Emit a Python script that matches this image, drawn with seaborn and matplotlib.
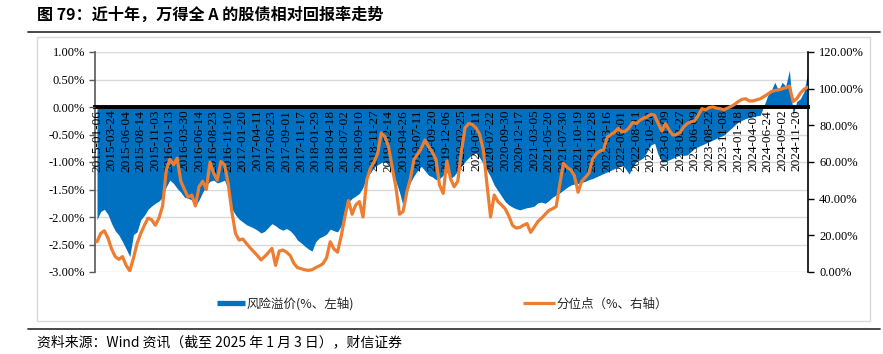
import numpy as np
import pandas as pd
import matplotlib
matplotlib.use("Agg")
import matplotlib.pyplot as plt
import seaborn as sns
from matplotlib.lines import Line2D
from matplotlib.patches import Rectangle
from matplotlib.ticker import FixedLocator, FixedFormatter

# ---------------- data ----------------
tick_labels = [
    "2015-01-06", "2015-03-24", "2015-06-04", "2015-08-14", "2015-11-03",
    "2016-01-13", "2016-03-30", "2016-06-14", "2016-08-23", "2016-11-10",
    "2017-01-20", "2017-04-11", "2017-06-23", "2017-09-01", "2017-11-17",
    "2018-01-29", "2018-04-18", "2018-07-02", "2018-09-10", "2018-11-27",
    "2019-02-14", "2019-04-26", "2019-07-11", "2019-09-20", "2019-12-06",
    "2020-02-25", "2020-05-11", "2020-07-22", "2020-09-30", "2020-12-17",
    "2021-03-05", "2021-05-20", "2021-07-30", "2021-10-19", "2021-12-28",
    "2022-03-16", "2022-06-01", "2022-08-11", "2022-10-28", "2023-01-09",
    "2023-03-27", "2023-06-09", "2023-08-22", "2023-11-08", "2024-01-18",
    "2024-04-09", "2024-06-24", "2024-09-02", "2024-11-20",
]

# 风险溢价 (%, left axis), four samples per tick-label interval
risk_premium = [
    -2.05, -1.90, -1.86, -1.95,  -2.12, -2.25, -2.33, -2.45,
    -2.58, -2.72, -2.32, -2.27,  -2.05, -1.97, -1.86, -1.80,
    -1.75, -1.71, -1.64, -1.45,  -1.33, -1.39, -1.48, -1.55,
    -1.64, -1.66, -1.69, -1.80,  -1.69, -1.55, -1.43, -1.35,
    -1.33, -1.38, -1.36, -1.33,  -1.50, -1.85, -1.96, -2.04,
    -2.09, -2.14, -2.17, -2.20,  -2.24, -2.29, -2.26, -2.19,
    -2.12, -2.16, -2.21, -2.24,  -2.21, -2.25, -2.32, -2.42,
    -2.47, -2.53, -2.58, -2.62,  -2.45, -2.38, -2.35, -2.31,
    -2.22, -2.25, -2.27, -2.16,  -1.87, -1.73, -1.66, -1.62,
    -1.57, -1.46, -1.27, -1.20,  -1.10, -1.05, -1.01, -0.99,
    -1.06, -1.17, -1.35, -1.55,  -1.80, -1.55, -1.37, -1.25,
    -1.15, -1.08, -1.16, -1.24,  -1.27, -1.32, -1.30, -1.24,
    -1.18, -1.30, -1.25, -1.16,  -1.08, -0.99, -0.92, -0.86,
    -0.84, -0.92, -1.03, -1.15,  -1.27, -1.42, -1.52, -1.62,
    -1.72, -1.78, -1.82, -1.85,  -1.87, -1.85, -1.83, -1.82,
    -1.80, -1.74, -1.73, -1.75,  -1.70, -1.64, -1.60, -1.56,
    -1.51, -1.46, -1.42, -1.40,  -1.39, -1.37, -1.35, -1.32,
    -1.30, -1.27, -1.24, -1.21,  -1.18, -1.15, -1.12, -1.08,
    -1.05, -1.12, -1.22, -1.08,  -0.99, -0.96, -0.92, -0.80,
    -0.69, -0.66, -0.87, -1.00,  -0.99, -0.96, -0.93, -0.90,
    -0.87, -0.88, -0.87, -0.81,  -0.75, -0.72, -0.69, -0.66,
    -0.63, -0.60, -0.57, -0.54,  -0.51, -0.45, -0.39, -0.33,
    -0.27, -0.24, -0.21, -0.19,  -0.18, -0.16, -0.15, 0.02,
    0.20, 0.30, 0.45, 0.30,      0.45, 0.38, 0.67, -0.15,
    0.10, 0.15, 0.28, 0.62,
]

# 分位点 (%, right axis)
percentile = [
    16.5, 21.0, 22.5, 18.6,   12.6, 8.4, 6.9, 8.4,
    3.6, 0.6, 7.5, 15.6,      21.0, 25.5, 29.4, 28.5,
    25.5, 29.4, 36.0, 55.5,   61.5, 58.5, 62.1, 49.5,
    45.0, 40.8, 42.0, 36.0,   46.5, 49.5, 45.0, 60.0,
    54.0, 50.1, 60.3, 58.5,   48.0, 33.0, 21.0, 17.4,
    18.0, 15.6, 13.2, 11.1,   9.0, 6.6, 8.4, 10.5,
    12.9, 3.6, 11.4, 12.0,    10.8, 9.0, 4.8, 2.4,
    1.8, 1.2, 0.9, 1.2,       2.4, 3.3, 4.5, 7.8,
    16.5, 12.6, 10.8, 19.5,   30.0, 39.0, 31.5, 36.6,
    38.4, 30.0, 50.1, 56.4,   60.0, 64.5, 75.9, 73.8,
    68.4, 57.0, 46.5, 31.5,   33.0, 43.5, 51.0, 61.5,
    64.2, 67.5, 72.0, 68.4,   65.4, 61.5, 47.4, 42.9,
    60.6, 51.0, 46.5, 49.5,   66.0, 78.6, 81.0, 80.4,
    78.6, 75.0, 66.6, 48.0,   30.0, 42.0, 38.4, 36.6,
    34.5, 30.6, 25.5, 24.0,   24.3, 25.5, 26.4, 21.6,
    24.6, 27.6, 29.4, 31.5,   33.6, 34.5, 35.7, 48.0,
    59.4, 57.0, 55.8, 52.5,   43.5, 49.5, 51.6, 54.0,
    61.5, 64.5, 66.0, 66.6,   73.5, 75.0, 76.2, 78.3,
    76.5, 76.8, 78.6, 81.6,   81.0, 82.8, 84.0, 84.6,
    86.1, 85.5, 81.0, 76.8,   81.0, 77.4, 74.7, 75.0,
    76.2, 79.2, 81.0, 81.9,   82.5, 85.5, 89.1, 88.5,
    89.7, 90.0, 89.4, 89.1,   88.5, 89.4, 90.3, 91.5,
    93.0, 94.2, 94.5, 93.3,   93.3, 93.9, 94.5, 95.7,
    96.9, 98.4, 99.0, 99.3,   99.9, 100.5, 101.4, 93.0,
    94.5, 97.5, 99.6, 100.8,
]

title = "图 79：近十年，万得全 A 的股债相对回报率走势"
source = "资料来源：Wind 资讯（截至 2025 年 1 月 3 日），财信证券"
label_rp = "风险溢价(%、左轴)"
label_pct = "分位点（%、右轴）"

# ---------------- style ----------------
sns.set_theme(style="white")
plt.rcParams["font.family"] = ["Liberation Serif", "Noto Sans CJK SC", "DejaVu Sans"]
plt.rcParams["axes.axisbelow"] = False
CJK = ["Noto Sans CJK SC", "DejaVu Sans"]
BLUE = "#0070C0"
ORANGE = "#ED7D31"

W, H = 883, 354
fig = plt.figure(figsize=(W / 100, H / 100), dpi=100)
fig.patch.set_facecolor("white")

df = pd.DataFrame({
    "idx": np.arange(len(risk_premium)),
    "rp": risk_premium,
    "pct": percentile,
})

ax = fig.add_axes([95 / W, 1 - 272 / H, (808 - 95) / W, 220 / H])
ax.set_facecolor("white")
ax.set_axisbelow(False)
ax.fill_between(df["idx"], 0, df["rp"], color=BLUE, linewidth=0, zorder=1)

ax2 = ax.twinx()
sns.lineplot(data=df, x="idx", y="pct", ax=ax2, color=ORANGE, lw=2.3,
             legend=False, zorder=3)

# left axis
ax.set_ylim(-3, 1)
yt = np.arange(-3, 1.001, 0.5)
ax.yaxis.set_major_locator(FixedLocator(yt))
ax.yaxis.set_major_formatter(FixedFormatter([f"{v:.2f}%" for v in yt]))
for v in yt:
    ax.axhline(v, color="#d9d9d9", lw=1.0, zorder=0.5)

# x axis (categorical date labels hanging below the zero line)
ax.set_xlim(-0.55, 195.1)
xt = np.arange(0, 4 * len(tick_labels), 4)
ax.xaxis.set_major_locator(FixedLocator(xt))
ax.xaxis.set_major_formatter(FixedFormatter(tick_labels))
ax.xaxis.set_minor_locator(FixedLocator([]))
ax.tick_params(axis="x", length=0, pad=2, colors="black", labelrotation=90,
               labelsize=9.5)
for t in ax.get_xticklabels():
    t.set_va("top")
    t.set_ha("center")

ax.spines["bottom"].set_position(("data", 0))
ax.spines["bottom"].set_linewidth(2.8)
ax.spines["bottom"].set_color("black")
ax.spines["top"].set_visible(False)
ax.spines["right"].set_visible(False)
ax.spines["left"].set_color("#595959")
ax.spines["left"].set_linewidth(1.2)
ax.tick_params(axis="y", left=True, length=4, width=1, pad=3, labelsize=9,
               colors="#595959", labelcolor="black", direction="out")
ax.set_xlabel("")
ax.set_ylabel("")
ax.grid(False)
ax.xaxis.set_zorder(2.5)
ax.yaxis.set_zorder(2.5)

# right axis
ax2.set_ylim(0, 120)
rt = np.arange(0, 120.001, 20)
ax2.yaxis.set_major_locator(FixedLocator(rt))
ax2.yaxis.set_major_formatter(FixedFormatter([f"{v:.2f}%" for v in rt]))
ax2.set_ylabel("")
ax2.set_xlabel("")
ax2.grid(False)
for s in ["left", "top", "bottom"]:
    ax2.spines[s].set_visible(False)
ax2.spines["right"].set_color("black")
ax2.spines["right"].set_linewidth(1.2)
ax2.tick_params(axis="y", right=True, length=4, width=1, pad=4, labelsize=9,
                colors="black", direction="out")
ax2.xaxis.set_visible(False)

# ---------------- legend ----------------
fig.legend(handles=[Line2D([], [], color=BLUE, lw=3.8, solid_capstyle="butt")],
           labels=[label_rp], loc="center left",
           bbox_to_anchor=(217 / W, 1 - 304 / H), frameon=False,
           borderpad=0, borderaxespad=0, handlelength=2.25,
           handletextpad=0.15, prop={"family": CJK, "size": 9})
fig.legend(handles=[Line2D([], [], color=ORANGE, lw=2.3, solid_capstyle="butt")],
           labels=[label_pct], loc="center left",
           bbox_to_anchor=(523 / W, 1 - 304 / H), frameon=False,
           borderpad=0, borderaxespad=0, handlelength=2.55,
           handletextpad=0.15, prop={"family": CJK, "size": 9})

# ---------------- frame, title, source ----------------
fig.add_artist(Rectangle((37 / W, 1 - 321 / H), (870 - 37) / W, (321 - 37) / H,
                         transform=fig.transFigure, fill=False,
                         edgecolor="#d9d9d9", lw=1.0))
fig.add_artist(Line2D([28 / W, 880 / W], [1 - 32 / H] * 2, transform=fig.transFigure,
                      color="#3a3a3a", lw=1.3))
fig.add_artist(Line2D([28 / W, 880 / W], [1 - 329 / H] * 2, transform=fig.transFigure,
                      color="#3a3a3a", lw=1.3))
fig.text(37 / W, 1 - 15 / H, title, family=CJK, weight="bold", size=11.6,
         ha="left", va="center", color="black")
fig.text(37 / W, 1 - 342 / H, source, family=CJK, style="italic", size=10,
         ha="left", va="center", color="black")

fig.savefig("out.png", dpi=100, facecolor="white")
